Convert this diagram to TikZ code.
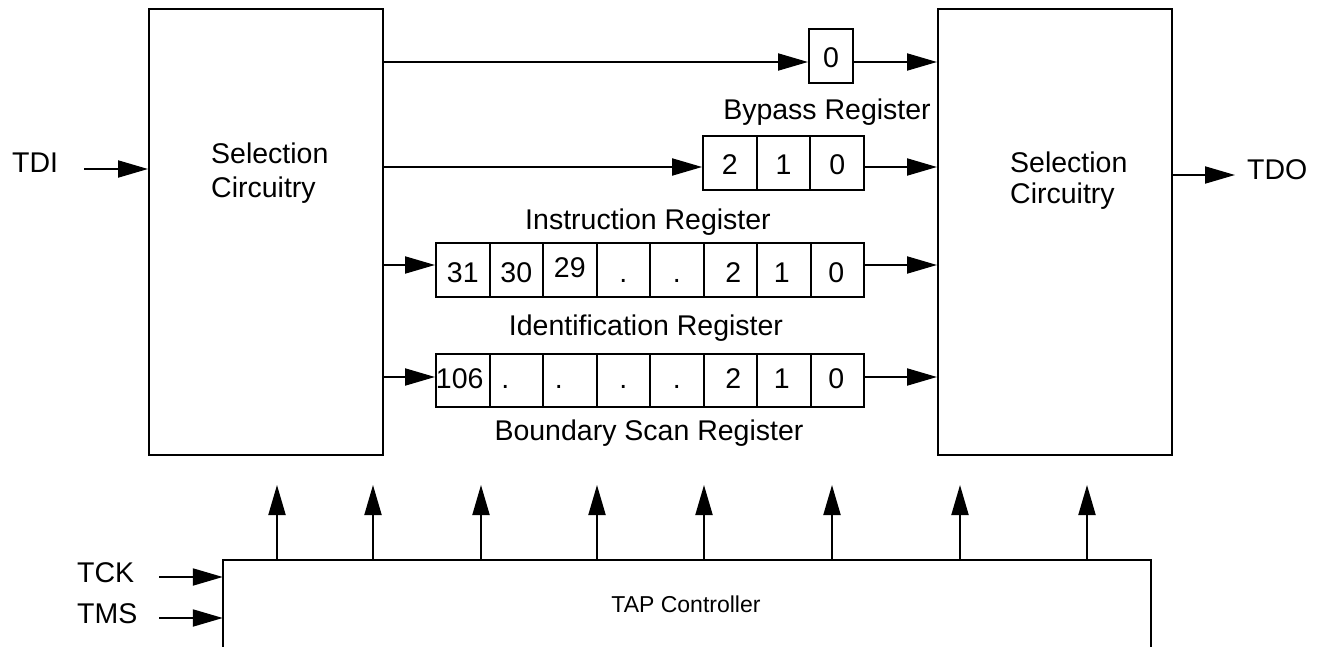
\documentclass[tikz,border=0pt]{standalone}
\usepackage{fontspec}
\setmainfont{Liberation Sans}
\usetikzlibrary{arrows.meta}
\begin{document}
\begin{tikzpicture}[x=1pt,y=-1pt,
  lw/.style={line width=2pt},
  arr/.style={lw,-{Triangle[length=30pt,width=17pt]}},
  bigbox/.style={draw,lw,rectangle,inner sep=0pt,minimum width=234pt,minimum height=445pt},
  cell/.style={draw,lw,rectangle,inner sep=0pt,minimum width=53.5pt,minimum height=54pt},
  val/.style={inner sep=0pt,anchor=base,font=\fontsize{28.5pt}{34pt}\selectfont},
  lbl/.style={inner sep=0pt,anchor=base,font=\fontsize{28.5pt}{34pt}\selectfont},
  pin/.style={inner sep=0pt,anchor=base west,font=\fontsize{28.5pt}{34pt}\selectfont}]
\useasboundingbox (0,0) rectangle (1318,647);

% selection circuitry boxes
\node[bigbox] (lsel) at (266,232) {};
\node[bigbox] (rsel) at (1055,232) {};
\node[inner sep=0pt,anchor=north west,align=left,font=\fontsize{28.5pt}{34pt}\selectfont] (lselt) at (211,142.5) {Selection\\Circuitry};
\node[inner sep=0pt,anchor=north west,align=left,font=\fontsize{28.5pt}{31pt}\selectfont] (rselt) at (1010,151.5) {Selection\\Circuitry};

% bypass register
\node[cell,minimum width=44pt] (byp) at (831,56) {};
\node[val] (bypt) at (831,68) {0};
\node[lbl] (bypl) at (827,120) {Bypass Register};

% instruction register (3 cells)
\foreach \i/\t in {0/2,1/1,2/0}{
  \node[cell] (ir\i) at ({703+53.67*\i+26.83},163) {};
  \node[val] (irt\i) at ({703+53.67*\i+26.83},175) {\t};
}
\node[lbl] (irl) at (648,230) {Instruction Register};

% identification register (8 cells)
\foreach \i/\t/\dx/\dy in {0/31/0/0,1/30/0/0,2/29/0/-5,3/./0/0,4/./0/0,5/2/3/0,6/1/-2/0,7/0/-1/0}{
  \node[cell] (id\i) at ({436+53.5*\i+26.75},270) {};
  \node[val] (idt\i) at ({436+53.5*\i+26.75+\dx},{283+\dy}) {\t};
}
\node[lbl] (idl) at (646,335) {Identification Register};

% boundary scan register (8 cells)
\foreach \i/\t/\dx in {0/106/-3,1/./-11,2/./-11,3/./0,4/./0,5/2/3,6/1/-2,7/0/-1}{
  \node[cell,minimum height=53pt] (bs\i) at ({436+53.5*\i+26.75},380.5) {};
  \node[val] (bst\i) at ({436+53.5*\i+26.75+\dx},388) {\t};
}
\node[lbl] (bsl) at (649,440) {Boundary Scan Register};

% row levels
\coordinate (ybyp) at (0,62);
\coordinate (yir) at (0,167);
\coordinate (yid) at (0,265);
\coordinate (ybs) at (0,377);

% data path arrows
\draw[arr] (lsel.east |- ybyp) -- (byp.west |- ybyp);
\draw[arr] (byp.east |- ybyp) -- (rsel.west |- ybyp);
\draw[arr] (lsel.east |- yir) -- (ir0.west |- yir);
\draw[arr] (ir2.east |- yir) -- (rsel.west |- yir);
\draw[arr] (lsel.east |- yid) -- (id0.west |- yid);
\draw[arr] (id7.east |- yid) -- (rsel.west |- yid);
\draw[arr] (lsel.east |- ybs) -- (bs0.west |- ybs);
\draw[arr] (bs7.east |- ybs) -- (rsel.west |- ybs);

% TDI / TDO
\node[pin] (tdi) at (12,173) {TDI};
\coordinate (tdifrom) at (84,169);
\draw[arr] (tdifrom) -- (tdifrom -| lsel.west);
\node[pin] (tdo) at (1247,180) {TDO};
\coordinate (tdoto) at (1235,175);
\draw[arr] (tdoto -| rsel.east) -- (tdoto);

% TAP controller (open at the bottom)
\node[inner sep=0pt,minimum width=928pt,minimum height=100pt] (tap) at (687,610) {};
\draw[lw] (tap.south west) -- (tap.north west) -- (tap.north east) -- (tap.south east);
\node[inner sep=0pt,anchor=base,font=\fontsize{23pt}{27pt}\selectfont] (tapl) at (686,612) {TAP Controller};

% TCK / TMS
\node[pin] (tck) at (77,582) {TCK};
\coordinate (tckfrom) at (159,577);
\draw[arr] (tckfrom) -- (tckfrom -| tap.west);
\node[pin] (tms) at (77,623) {TMS};
\coordinate (tmsfrom) at (159,618);
\draw[arr] (tmsfrom) -- (tmsfrom -| tap.west);

% control arrows up from TAP controller
\foreach \k/\x in {1/277,2/373,3/481,4/597,5/704,6/832,7/960,8/1087}{
  \coordinate (up\k) at (\x,485);
  \draw[arr] (tap.north -| up\k) -- (up\k);
}
\end{tikzpicture}
\end{document}
